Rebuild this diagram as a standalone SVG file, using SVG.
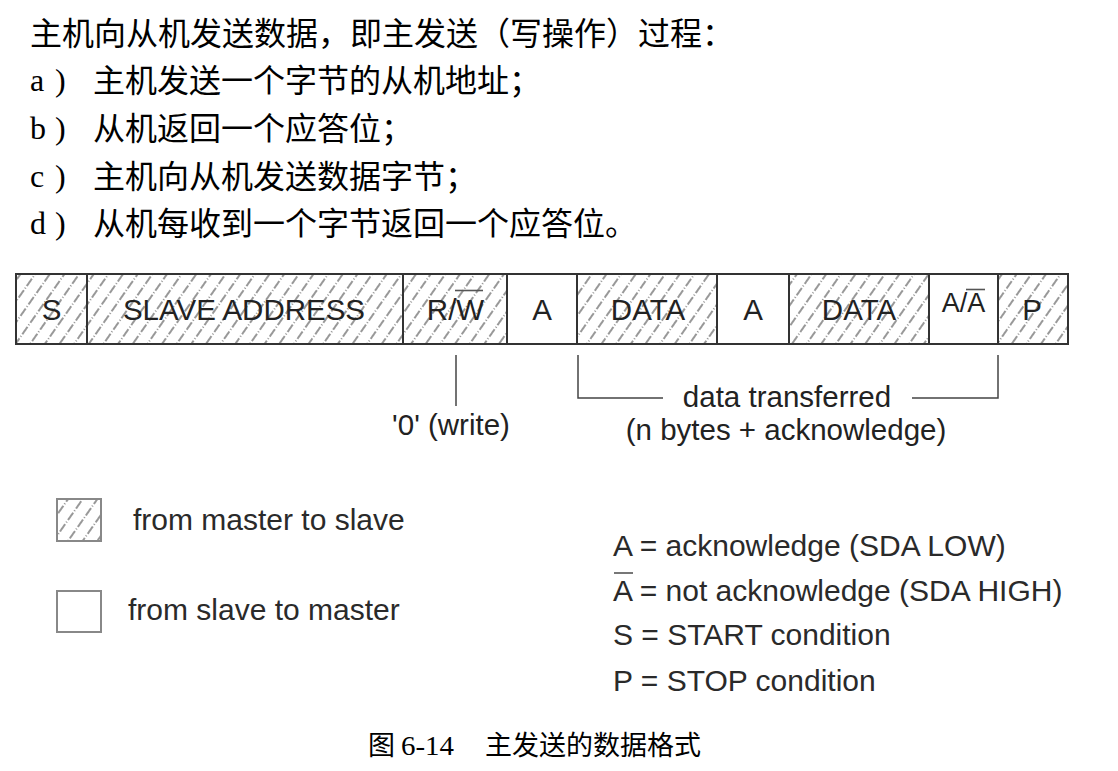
<svg xmlns="http://www.w3.org/2000/svg" width="1118" height="771" viewBox="0 0 1118 771">
  <style>
    .cjk { font-family: "Noto Sans CJK SC", "Noto Sans CJK JP", sans-serif; fill: #000; }
    .ser { font-family: "Liberation Serif", serif; fill: #000; }
    .lbl { font-family: "Liberation Sans", Arial, sans-serif; font-size: 29.5px; fill: #222; }
    .lgt { font-family: "Liberation Sans", Arial, sans-serif; font-size: 30px; fill: #2a2a2a; }
    .mid { text-anchor: middle; }
    .box { stroke: #333; stroke-width: 2; }
    .hat { fill: url(#hatch); }
    .wht { fill: #fff; }
    .lg { stroke: #888; stroke-width: 2; }
    .ln { stroke: #444; stroke-width: 1.5; fill: none; }
    .ov { stroke: #555; stroke-width: 1.6; }
  </style>
  <defs>
    <pattern id="hatch" patternUnits="userSpaceOnUse" width="12" height="14" patternTransform="rotate(35)">
      <rect width="12" height="14" fill="#fff"/>
      <line x1="6" y1="0" x2="6" y2="14" stroke="#555" stroke-width="1.2" stroke-dasharray="9 2 1 2"/>
    </pattern>
  </defs>
  <rect width="1118" height="771" fill="#fff"/>

  <g id="intro">
    <text class="cjk" x="30" y="45" font-size="32">主机向从机发送数据，即主发送（写操作）过程：</text>
    <text class="ser" font-size="32" y="91"><tspan x="30">a</tspan><tspan x="55">)</tspan></text>
    <text class="cjk" x="93" y="92" font-size="32">主机发送一个字节的从机地址；</text>
    <text class="ser" font-size="32" y="139"><tspan x="30">b</tspan><tspan x="55">)</tspan></text>
    <text class="cjk" x="93" y="140" font-size="32">从机返回一个应答位；</text>
    <text class="ser" font-size="32" y="187"><tspan x="30">c</tspan><tspan x="55">)</tspan></text>
    <text class="cjk" x="93" y="188" font-size="32">主机向从机发送数据字节；</text>
    <text class="ser" font-size="32" y="234"><tspan x="30">d</tspan><tspan x="55">)</tspan></text>
    <text class="cjk" x="93" y="235" font-size="32">从机每收到一个字节返回一个应答位。</text>
  </g>

  <g id="field-S">
    <rect class="box hat" x="16" y="274" width="71" height="70"/>
    <text class="lbl mid" x="51.5" y="320">S</text>
  </g>
  <g id="field-address">
    <rect class="box hat" x="87" y="274" width="316" height="70"/>
    <text class="lbl mid" x="244" y="320">SLAVE ADDRESS</text>
  </g>
  <g id="field-rw">
    <rect class="box hat" x="403" y="274" width="104" height="70"/>
    <text class="lbl mid" x="455.5" y="320">R/W</text>
    <line class="ov" x1="455" y1="290.5" x2="483" y2="290.5"/>
  </g>
  <g id="field-A1">
    <rect class="box wht" x="507" y="274" width="70" height="70"/>
    <text class="lbl mid" x="542" y="320">A</text>
  </g>
  <g id="field-data1">
    <rect class="box hat" x="577" y="274" width="140" height="70"/>
    <text class="lbl mid" x="648" y="320">DATA</text>
  </g>
  <g id="field-A2">
    <rect class="box wht" x="717" y="274" width="72" height="70"/>
    <text class="lbl mid" x="753" y="320">A</text>
  </g>
  <g id="field-data2">
    <rect class="box hat" x="789" y="274" width="140" height="70"/>
    <text class="lbl mid" x="859" y="320">DATA</text>
  </g>
  <g id="field-AnA">
    <rect class="box wht" x="929" y="274" width="69" height="70"/>
    <text class="lbl mid" x="963.5" y="312" style="font-size:27px">A/A</text>
    <line class="ov" x1="966" y1="289.5" x2="985" y2="289.5"/>
  </g>
  <g id="field-P">
    <rect class="box hat" x="998" y="274" width="70" height="70"/>
    <text class="lbl mid" x="1032" y="320">P</text>
  </g>

  <g id="connectors">
    <line class="ln" x1="456" y1="355" x2="456" y2="406"/>
    <polyline class="ln" points="578,355 578,398 663,398"/>
    <polyline class="ln" points="912,398 998,398 998,355"/>
  </g>

  <g id="annotations">
    <text class="lbl mid" x="451" y="435">'0' (write)</text>
    <text class="lbl mid" x="787" y="407">data transferred</text>
    <text class="lbl mid" x="786" y="440">(n bytes + acknowledge)</text>
  </g>

  <g id="legend-master">
    <rect class="lg hat" x="57" y="499" width="44" height="42"/>
    <text class="lgt" x="133" y="530">from master to slave</text>
  </g>
  <g id="legend-slave">
    <rect class="lg wht" x="57" y="591" width="44" height="41"/>
    <text class="lgt" x="128" y="620">from slave to master</text>
  </g>

  <g id="legend-abbrev">
    <text class="lgt" x="613" y="556">A = acknowledge (SDA LOW)</text>
    <line class="ov" x1="614" y1="573" x2="633" y2="573"/>
    <text class="lgt" x="613" y="601">A = not acknowledge (SDA HIGH)</text>
    <text class="lgt" x="613" y="645">S = START condition</text>
    <text class="lgt" x="613" y="691">P = STOP condition</text>
  </g>

  <g id="caption">
    <text class="cjk" x="368" y="755" font-size="27">图</text>
    <text class="ser" x="401" y="755" font-size="27" textLength="53" lengthAdjust="spacingAndGlyphs">6-14</text>
    <text class="cjk" x="485" y="755" font-size="27">主发送的数据格式</text>
  </g>
</svg>
